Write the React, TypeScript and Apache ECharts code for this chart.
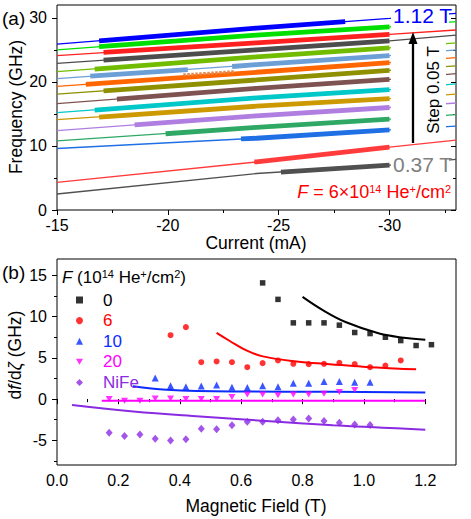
import { useEffect, useRef } from 'react';
import * as echarts from 'echarts';

const FONT = 'Liberation Sans, Arial, Helvetica, sans-serif';

// ---------- Panel (a) data ----------
const fieldsT = [0.37, 0.42, 0.47, 0.52, 0.57, 0.62, 0.67, 0.72, 0.77, 0.82, 0.87, 0.92, 0.97, 1.02, 1.07, 1.12];
const lineColors = ['#505050', '#ff3b3b', '#1f6fe5', '#2fa866', '#b07ee0', '#cc9a00', '#00c8c8', '#7f5252', '#8f9000', '#ff6600', '#6b9fd6', '#72bc00', '#4d4d4d', '#ff2020', '#00e000', '#0000ff'];
const currents = [-15, -24, -30, -33];
const freqs = [
  [2.5, 5.7, 7.0, 7.9],
  [4.3, 7.5, 9.8, 10.9],
  [9.6, 11.2, 12.5, 13.1],
  [10.8, 12.9, 14.2, 14.9],
  [12.4, 14.7, 16.0, 16.7],
  [14.1, 16.2, 17.4, 18.1],
  [15.2, 17.5, 18.8, 19.7],
  [16.6, 19.0, 20.4, 21.3],
  [18.1, 20.3, 21.8, 22.5],
  [19.3, 21.5, 23.0, 23.8],
  [20.5, 22.7, 24.1, 25.0],
  [21.6, 23.9, 25.3, 26.1],
  [22.9, 25.0, 26.4, 27.3],
  [24.1, 26.1, 27.4, 28.1],
  [25.0, 27.3, 28.6, 29.4],
  [25.9, 28.4, 29.9, 30.7],
];
// thick (measured) segments: [startCurrent, startValue, endCurrent, endValue]
const thickSegs: number[][][] = [
  [[-25.1, 5.9, -30, 7.0]],
  [[-23.9, 7.5, -30, 9.8]],
  [[-23.3, 11.1, -30, 12.5]],
  [[-19.9, 11.9, -30, 14.2]],
  [[-18.5, 13.3, -30, 16.0]],
  [[-16.9, 14.5, -30, 17.4]],
  [[-16.7, 15.6, -30, 18.8]],
  [[-17.7, 17.3, -30, 20.4]],
  [[-17.1, 18.6, -30, 21.8]],
  [[-16.3, 19.6, -30, 23.0]],
  [[-16.5, 20.9, -20.9, 21.9], [-22.9, 22.4, -30, 24.1]],
  [[-16.7, 22.0, -30, 25.3]],
  [[-17.1, 23.4, -30, 26.4]],
  [[-17.1, 24.6, -30, 27.4]],
  [[-16.9, 25.5, -30, 28.6]],
  [[-16.9, 26.4, -28, 29.4]],
];
const dottedSeg = [[-20.7, 21.1], [-23.0, 21.6]];

const xMajorA = [-15, -20, -25, -30];
const xMinorA = [-17.5, -22.5, -27.5, -32.5];
const yMajorA = [0, 10, 20, 30];
const yMinorA = [5, 15, 25];

// ---------- Panel (b) data ----------
const field0 = [0.67, 0.72, 0.77, 0.82, 0.87, 0.92, 0.97, 1.02, 1.07, 1.12, 1.17, 1.22];
const df0 = [14.1, 12.1, 9.25, 9.25, 9.25, 8.97, 8.08, 7.95, 7.5, 7.1, 6.5, 6.6];
const field6 = [0.37, 0.42, 0.47, 0.52, 0.57, 0.62, 0.67, 0.72, 0.77, 0.82, 0.87, 0.92, 0.97, 1.02, 1.07, 1.12];
const df6 = [7.75, 8.73, 4.48, 4.57, 4.48, 3.87, 4.36, 4.69, 4.28, 4.24, 4.28, 4.4, 4.24, 3.87, 4.07, 4.69];
const field10 = [0.32, 0.37, 0.42, 0.47, 0.52, 0.57, 0.62, 0.67, 0.72, 0.77, 0.82, 0.87, 0.92, 0.97, 1.02];
const df10 = [2.57, 1.63, 1.5, 1.6, 1.7, 1.45, 1.42, 1.63, 1.5, 1.91, 1.91, 2.12, 2.12, 2.04, 2.04];
const field20 = [0.17, 0.22, 0.27, 0.32, 0.37, 0.42, 0.47, 0.52, 0.57, 0.62, 0.67, 0.72, 0.77, 0.82, 0.87, 0.92, 0.97];
const df20 = [0.0, -0.2, -0.2, 0.08, 0.08, 0.0, 0.0, 0.0, 0.25, 0.55, 0.55, 0.45, 0.55, 0.55, 0.65, 0.85, 1.1];
const fieldNiFe = [0.17, 0.22, 0.27, 0.32, 0.37, 0.42, 0.47, 0.52, 0.57, 0.62, 0.67, 0.72, 0.77, 0.82, 0.87, 0.92, 0.97, 1.02];
const dfNiFe = [-4.08, -4.49, -4.29, -4.82, -5.02, -4.86, -3.6, -3.67, -3.18, -2.74, -2.74, -2.57, -2.49, -2.37, -2.66, -2.86, -3.1, -3.15];

const fit0 = [[0.8, 12.4], [0.87, 10.7], [0.94, 9.35], [1.05, 7.95], [1.13, 7.45], [1.2, 7.2]];
const fit6 = [[0.52, 8.03], [0.563, 7.05], [0.617, 5.9], [0.671, 5.18], [0.78, 4.57], [0.889, 4.24], [0.997, 3.92], [1.1, 3.71], [1.17, 3.62]];
const fit10 = [[0.247, 1.55], [0.357, 1.14], [0.57, 0.93], [0.9, 0.89], [1.2, 0.81]];
const fit20 = [[0.146, -0.2], [1.2, -0.2]];
const fitNiFe = [[0.049, -0.73], [0.249, -1.51], [0.466, -2.12], [0.682, -2.66], [0.899, -3.18], [1.061, -3.47], [1.2, -3.72]];

const xMajorB = [0, 0.2, 0.4, 0.6, 0.8, 1.0, 1.2];
const xMinorB = [0.1, 0.3, 0.5, 0.7, 0.9, 1.1];
const yMajorB = [-5, 0, 5, 10, 15];
const yMinorB = [-7.5, -2.5, 2.5, 7.5, 12.5];

const legendNames = ['0', '6', '10', '20', 'NiFe'];
const colB = { k: '#000000', r: '#ff0000', b: '#0a2cff', m: '#ff00ff', p: '#8b2be2' };

function axes(dim: 'x' | 'y', gridIndex: number, min: number, max: number, inverse: boolean,
  major: number[], minor: number[], fmt: (v: number) => string, margin: number) {
  const pos = dim === 'x' ? ['bottom', 'top'] : ['left', 'right'];
  const base = (position: string, ticks: number[], len: number, inside: boolean, label: boolean) => ({
    type: 'value', gridIndex, min, max, inverse, position, offset: 0,
    axisLine: { show: false }, splitLine: { show: false }, minorTick: { show: false },
    axisTick: { show: true, inside, length: len, customValues: ticks, lineStyle: { color: '#000', width: 1 } },
    axisLabel: label
      ? { show: true, customValues: major, formatter: fmt, fontSize: 16, fontFamily: FONT, color: '#000', margin }
      : { show: false },
  });
  return [
    base(pos[0], major, 5, false, true),
    base(pos[0], minor, 3, false, false),
    base(pos[1], major, 5, true, false),
    base(pos[1], minor, 3, true, false),
  ];
}

function buildOption() {
  const series: any[] = [];
  // panel (a)
  fieldsT.forEach((f, i) => {
    const pts = currents.map((c, j) => [c, freqs[i][j]]);
    series.push({
      type: 'line', name: 'thin' + f, xAxisIndex: 0, yAxisIndex: 0, data: pts,
      symbol: 'none', silent: true, z: 2,
      lineStyle: { width: 1.3, color: lineColors[i] },
    });
    thickSegs[i].forEach((s) => {
      const inner = pts.filter((p) => p[0] < s[0] && p[0] > s[2]);
      series.push({
        type: 'line', name: 'thick' + f, xAxisIndex: 0, yAxisIndex: 0,
        data: [[s[0], s[1]], ...inner, [s[2], s[3]]],
        symbol: 'none', silent: true, z: 3,
        lineStyle: { width: 4.8, color: lineColors[i], cap: 'butt' },
      });
    });
  });
  series.push({
    type: 'line', name: 'dotted', xAxisIndex: 0, yAxisIndex: 0, data: dottedSeg,
    symbol: 'none', silent: true, z: 4,
    lineStyle: { width: 3, color: '#e58a4e', type: [2.5, 1.5] },
  });

  // panel (b)
  const sc = (name: string, xs: number[], ys: number[], symbol: string, size: any, color: string) => ({
    type: 'scatter', name, xAxisIndex: 4, yAxisIndex: 4,
    data: xs.map((x, i) => [x, ys[i]]), symbol, symbolSize: size,
    itemStyle: { color }, z: 4, silent: true,
  });
  const fit = (name: string, data: number[][], color: string) => ({
    type: 'line', name, xAxisIndex: 4, yAxisIndex: 4, data, smooth: 0.4,
    symbol: 'none', silent: true, z: 3, lineStyle: { width: 2, color },
  });
  series.push(fit('fit0', fit0, colB.k));
  series.push(fit('fit6', fit6, colB.r));
  series.push(fit('fit10', fit10, colB.b));
  series.push(fit('fit20', fit20, colB.m));
  series.push(fit('fitNiFe', fitNiFe, '#8a2be2'));
  series.push(sc('0', field0, df0, 'rect', 5.5, colB.k));
  series.push(sc('6', field6, df6, 'circle', 6, colB.r));
  series.push(sc('10', field10, df10, 'triangle', 7, colB.b));
  series.push(sc('20', field20, df20, 'path://M0,0L2,0L1,1.7Z', [7, 6], colB.m));
  series.push(sc('NiFe', fieldNiFe, dfNiFe, 'diamond', [7, 8], colB.p));

  const fmtInt = (v: number) => String(v);
  const fmt1 = (v: number) => v.toFixed(1);

  const xAxis = [
    ...axes('x', 0, -33, -15, true, xMajorA, xMinorA, fmtInt, 7),
    ...axes('x', 1, 0, 1.3, false, xMajorB, xMinorB, fmt1, 7),
  ];
  const yAxis = [
    ...axes('y', 0, 0, 32, false, yMajorA, yMinorA, fmtInt, 10),
    ...axes('y', 1, -8, 17, false, yMajorB, yMinorB, fmtInt, 10),
  ];

  const t = (x: number, y: number, text: string, extra: any = {}, rot = 0) => ({
    type: 'text', x, y, rotation: rot, z: 60,
    style: { text, fontFamily: FONT, fontSize: 17.5, fill: '#000', align: 'center', verticalAlign: 'middle', ...extra },
  });
  const sup = (color: string) => ({ fontSize: 11, fontFamily: FONT, fill: color, verticalAlign: 'top' });
  const it = (color: string, size: number) => ({ fontSize: size, fontFamily: FONT, fill: color, fontStyle: 'italic' });

  const graphic = [
    // white masks under labels
    { type: 'rect', z: 50, shape: { x: 391, y: 6, width: 58, height: 23 }, style: { fill: '#fff' } },
    { type: 'rect', z: 50, shape: { x: 391, y: 42.5, width: 55, height: 97.5 }, style: { fill: '#fff' } },
    { type: 'rect', z: 50, shape: { x: 391, y: 155, width: 58, height: 17 }, style: { fill: '#fff' } },
    // arrow
    { type: 'line', z: 55, shape: { x1: 413, y1: 143, x2: 413, y2: 42 }, style: { stroke: '#000', lineWidth: 2.3 } },
    { type: 'polygon', z: 55, shape: { points: [[408.5, 44], [417.5, 44], [413, 32]] }, style: { fill: '#000' } },
    t(433.5, 90, 'Step 0.05 T', { fontSize: 17 }, Math.PI / 2),
    t(393, 15, '1.12 T', { fontSize: 21, fill: '#0000ff', align: 'left' }),
    t(393, 164, '0.37 T', { fontSize: 21, fill: '#808080', align: 'left' }),
    t(451, 192, '{i|F} = 6×10{s|14} He{s|+}/cm{s|2}', {
      fontSize: 18, fill: '#ff0000', align: 'right',
      rich: { i: it('#ff0000', 18), s: sup('#ff0000') },
    }),
    // panel labels
    t(2, 18, '(a)', { fontSize: 19, align: 'left' }),
    t(2, 272, '(b)', { fontSize: 19, align: 'left' }),
    // axis titles
    t(15.5, 107, 'Frequency (GHz)', {}, Math.PI / 2),
    t(256, 243, 'Current (mA)'),
    t(256, 506, 'Magnetic Field (T)'),
    t(15, 355, 'd{i|f}/d{i|ζ} (GHz)', { rich: { i: it('#000', 17.5) } }, Math.PI / 2),
    // legend header
    t(62, 277, '{i|F} (10{s|14} He{s|+}/cm{s|2})', {
      fontSize: 17, align: 'left', rich: { i: it('#000', 17), s: sup('#000') },
    }),
  ];

  return {
    animation: false,
    backgroundColor: '#fff',
    textStyle: { fontFamily: FONT },
    grid: [
      { left: 57, top: 5, width: 399, height: 205, show: true, borderColor: '#000', borderWidth: 1, backgroundColor: 'transparent' },
      { left: 57, top: 259, width: 399, height: 206, show: true, borderColor: '#000', borderWidth: 1, backgroundColor: 'transparent' },
    ],
    xAxis, yAxis,
    legend: {
      left: 71, top: 286.5, orient: 'vertical', itemWidth: 7, itemHeight: 7, itemGap: 3.6,
      selectedMode: false,
      textStyle: { fontSize: 17, fontFamily: FONT, padding: [0, 0, 0, 15] },
      data: [
        { name: '0', textStyle: { color: colB.k } },
        { name: '6', textStyle: { color: colB.r } },
        { name: '10', textStyle: { color: colB.b } },
        { name: '20', textStyle: { color: colB.m } },
        { name: 'NiFe', textStyle: { color: colB.p } },
      ].filter((d) => legendNames.includes(d.name)),
    },
    graphic,
    series,
  };
}

export default function App() {
  const ref = useRef<HTMLDivElement>(null);
  useEffect(() => {
    if (!ref.current) return;
    const chart = echarts.init(ref.current, undefined, { renderer: 'svg' });
    chart.setOption(buildOption() as any);
    return () => chart.dispose();
  }, []);
  return <div ref={ref} style={{ position: 'fixed', left: 0, top: 0, width: 471, height: 519, background: '#fff' }} />;
}
